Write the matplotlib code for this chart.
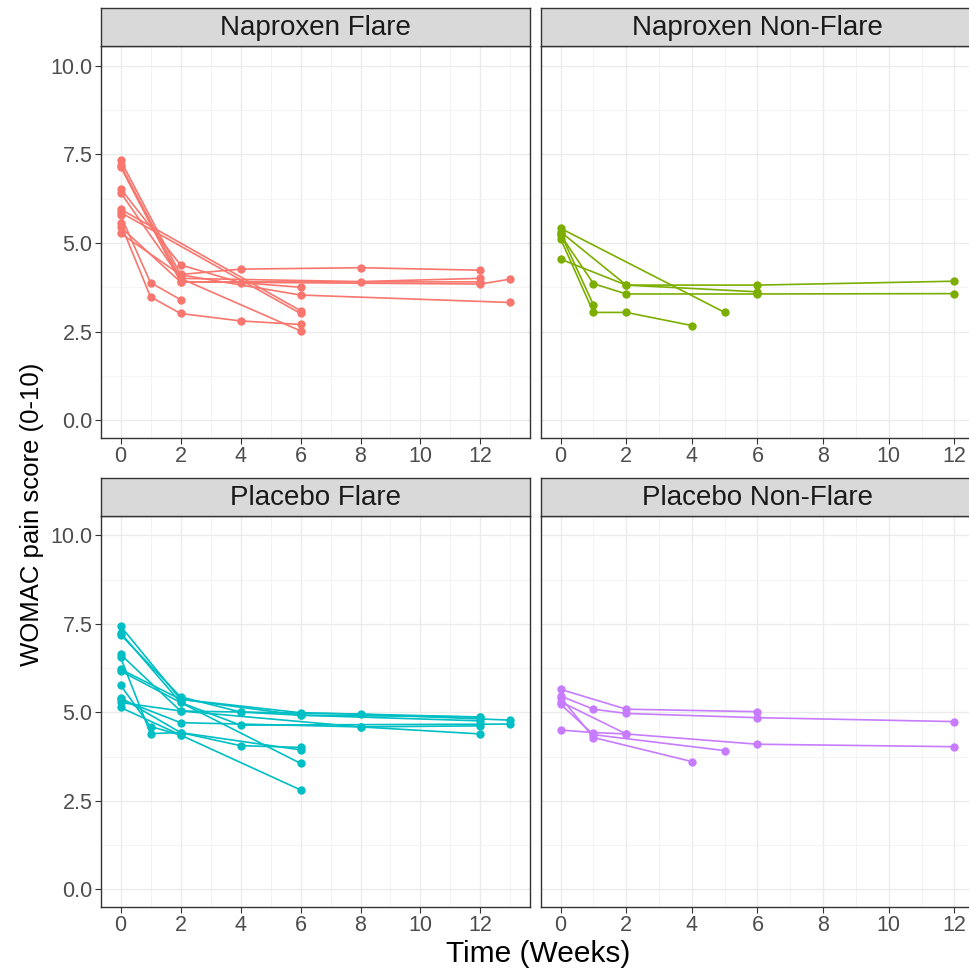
import matplotlib
matplotlib.use("Agg")
import matplotlib.pyplot as plt
from matplotlib.ticker import MultipleLocator, FormatStrFormatter

plt.rcParams['font.family'] = ['Liberation Sans', 'DejaVu Sans']

# panel titles and colours (ggplot default hues)
panels = ["Naproxen Flare", "Naproxen Non-Flare", "Placebo Flare", "Placebo Non-Flare"]
colors = ["#F8766D", "#7CAE00", "#00BFC4", "#C77CFF"]

# each patient: (weeks, scores)
nap_flare = [
    ([0, 2, 4, 8, 12], [7.33, 4.11, 4.26, 4.30, 4.23]),
    ([0, 2, 6], [7.20, 4.00, 2.52]),
    ([0, 2, 12], [7.15, 3.90, 3.90]),
    ([0, 2, 4, 6], [6.53, 4.38, 3.88, 3.75]),
    ([0, 2, 8, 12], [6.42, 4.00, 3.91, 4.00]),
    ([0, 6], [5.95, 3.09]),
    ([0, 6], [5.86, 3.01]),
    ([0, 1, 2], [5.78, 3.88, 3.40]),
    ([0, 1, 2, 4, 6], [5.55, 3.48, 3.01, 2.80, 2.70]),
    ([0, 2, 12, 13], [5.45, 3.90, 3.84, 3.98]),
    ([0, 2, 6, 13], [5.27, 4.10, 3.53, 3.32]),
]
nap_nonflare = [
    ([0, 5], [5.41, 3.04]),
    ([0, 2, 6, 12], [5.31, 3.81, 3.81, 3.92]),
    ([0, 1, 2, 6, 12], [5.22, 3.85, 3.56, 3.56, 3.57]),
    ([0, 1, 2, 4], [5.11, 3.04, 3.04, 2.67]),
    ([0, 1], [5.26, 3.25]),
    ([0, 2, 6], [4.54, 3.81, 3.62]),
]
plac_flare = [
    ([0, 2, 6, 12], [7.44, 5.37, 4.99, 4.87]),
    ([0, 2, 6], [7.25, 5.28, 3.56]),
    ([0, 2, 4, 8, 13], [7.20, 5.44, 5.01, 4.95, 4.78]),
    ([0, 2, 8, 12], [6.64, 5.04, 4.59, 4.39]),
    ([0, 1, 2, 4, 6], [6.56, 4.40, 4.43, 4.06, 4.01]),
    ([0, 2, 6, 12], [6.22, 5.37, 4.92, 4.76]),
    ([0, 2, 4, 13], [6.17, 5.28, 4.64, 4.67]),
    ([0, 1, 2], [5.77, 4.60, 4.36]),
    ([0, 2, 6], [5.42, 4.43, 3.94]),
    ([0, 2, 8, 12], [5.37, 4.71, 4.59, 4.62]),
    ([0, 2, 4, 6, 12], [5.28, 5.04, 5.01, 4.92, 4.87]),
    ([0, 2, 6], [5.14, 4.36, 2.81]),
]
plac_nonflare = [
    ([0, 2, 6], [5.65, 5.09, 5.02]),
    ([0, 1, 2, 6, 12], [5.46, 5.09, 4.97, 4.85, 4.74]),
    ([0, 1, 4], [5.42, 4.29, 3.61]),
    ([0, 2], [5.30, 4.39]),
    ([0, 1, 5], [5.23, 4.37, 3.92]),
    ([0, 1, 2, 6, 12], [4.50, 4.43, 4.39, 4.10, 4.03]),
]
groups = [nap_flare, nap_nonflare, plac_flare, plac_nonflare]
xmax = [13, 12, 13, 12]

W, H = 969, 972
fig = plt.figure(figsize=(W / 100, H / 100), dpi=100)

# pixel boxes of the plot areas (left, top, right, bottom)
boxes = [(101, 46, 530, 438), (541, 46, 974, 438),
         (101, 516, 530, 907), (541, 516, 974, 907)]
strip_h = 38

for i, (l, t, r, b) in enumerate(boxes):
    ax = fig.add_axes([l / W, 1 - b / H, (r - l) / W, (b - t) / H])
    ax.set_facecolor("white")
    for xs, ys in groups[i]:
        ax.plot(xs, ys, color=colors[i], lw=1.2, marker="o", ms=6, mew=0, zorder=3)
    ax.set_xlim(-0.05 * xmax[i], xmax[i] * 1.05)
    ax.set_ylim(-0.5, 10.55)
    ax.xaxis.set_major_locator(MultipleLocator(2))
    ax.xaxis.set_minor_locator(MultipleLocator(1))
    ax.yaxis.set_major_locator(MultipleLocator(2.5))
    ax.yaxis.set_minor_locator(MultipleLocator(1.25))
    ax.grid(which="major", color="#EBEBEB", lw=1.0)
    ax.grid(which="minor", color="#F3F3F3", lw=0.6)
    ax.set_axisbelow(True)
    for s in ax.spines.values():
        s.set_color("#333333")
        s.set_linewidth(1.0)
    ax.tick_params(which="major", length=4, color="#333333", labelsize=15.5,
                   labelcolor="#4D4D4D", pad=2)
    ax.tick_params(which="minor", length=0)
    if i % 2 == 1:
        ax.set_yticklabels([])
        ax.tick_params(axis="y", length=0)
    else:
        ax.yaxis.set_major_formatter(FormatStrFormatter("%.1f"))

    # facet strip
    sax = fig.add_axes([l / W, 1 - t / H, (r - l) / W, strip_h / H])
    sax.set_facecolor("#D9D9D9")
    sax.set_xticks([])
    sax.set_yticks([])
    for s in sax.spines.values():
        s.set_color("#333333")
        s.set_linewidth(1.0)
    sax.text(0.5, 0.47, panels[i], transform=sax.transAxes,
             ha="center", va="center", fontsize=20, color="#1A1A1A")

fig.text(538 / W, 1 - 954 / H, "Time (Weeks)", ha="center", va="center", fontsize=21.5)
fig.text(32 / W, 1 - 514 / H, "WOMAC pain score (0-10)", ha="center", va="center",
         rotation=90, fontsize=18.5)

fig.savefig("out.png", dpi=100)
